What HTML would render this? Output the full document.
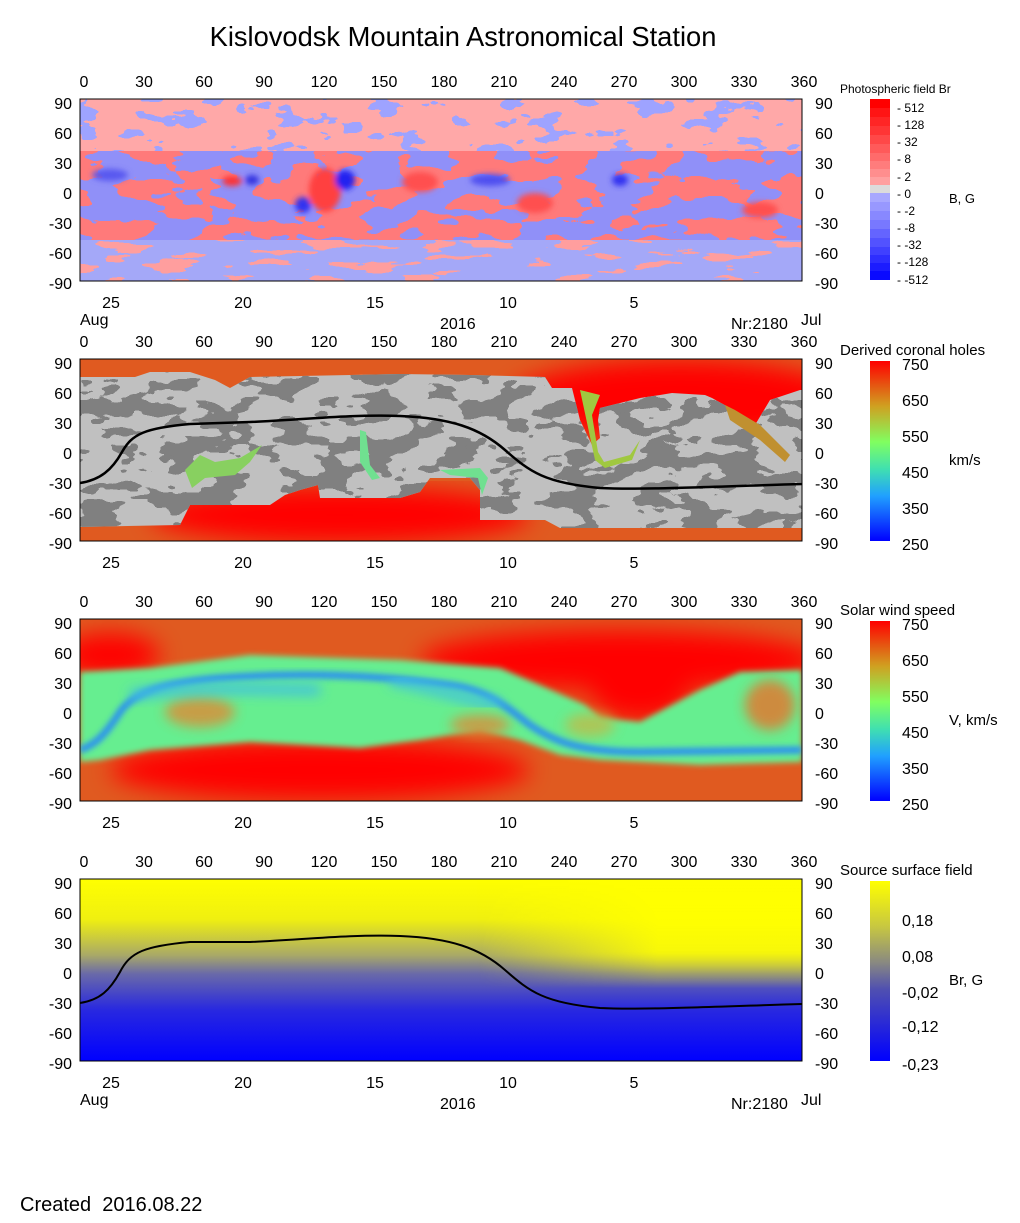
<!DOCTYPE html>
<html><head><meta charset="utf-8"><style>
html,body{margin:0;padding:0;background:#fff}
svg{display:block;font-family:"Liberation Sans",Arial,sans-serif}
</style></head><body>
<svg width="1020" height="1223" viewBox="0 0 1020 1223" xmlns="http://www.w3.org/2000/svg">
<defs>
<filter id="nb" x="0" y="0" width="100%" height="100%" color-interpolation-filters="sRGB">
<feTurbulence type="fractalNoise" baseFrequency="0.03 0.07" numOctaves="3" seed="4"/>
<feColorMatrix type="matrix" values="0 0 0 0 0.62  0 0 0 0 0.64  0 0 0 0 1  10 0 0 0 -5.7"/>
<feComponentTransfer><feFuncA type="discrete" tableValues="0 1"/></feComponentTransfer>
</filter>
<filter id="nr" x="0" y="0" width="100%" height="100%" color-interpolation-filters="sRGB">
<feTurbulence type="fractalNoise" baseFrequency="0.022 0.05" numOctaves="3" seed="11"/>
<feColorMatrix type="matrix" values="0 0 0 0 1  0 0 0 0 0.48  0 0 0 0 0.48  10 0 0 0 -4.6"/>
<feComponentTransfer><feFuncA type="discrete" tableValues="0 1"/></feComponentTransfer>
</filter>
<filter id="np" x="0" y="0" width="100%" height="100%" color-interpolation-filters="sRGB">
<feTurbulence type="fractalNoise" baseFrequency="0.02 0.1" numOctaves="3" seed="7"/>
<feColorMatrix type="matrix" values="0 0 0 0 1  0 0 0 0 0.62  0 0 0 0 0.62  10 0 0 0 -5.6"/>
<feComponentTransfer><feFuncA type="discrete" tableValues="0 1"/></feComponentTransfer>
</filter>
<filter id="ng" x="0" y="0" width="100%" height="100%" color-interpolation-filters="sRGB">
<feTurbulence type="fractalNoise" baseFrequency="0.025 0.055" numOctaves="3" seed="2"/>
<feColorMatrix type="matrix" values="0 0 0 0 0.5  0 0 0 0 0.5  0 0 0 0 0.5  10 0 0 0 -4.8"/>
<feComponentTransfer><feFuncA type="discrete" tableValues="0 1"/></feComponentTransfer>
</filter>
<filter id="bl"><feGaussianBlur stdDeviation="6"/></filter>
<filter id="bl2"><feGaussianBlur stdDeviation="12"/></filter>
<filter id="bl3"><feGaussianBlur stdDeviation="3"/></filter>
<linearGradient id="cb" x1="0" y1="1" x2="0" y2="0">
<stop offset="0" stop-color="#0000ff"/><stop offset="0.25" stop-color="#20a0ff"/>
<stop offset="0.4" stop-color="#40e0b0"/><stop offset="0.55" stop-color="#80ff60"/>
<stop offset="0.75" stop-color="#d0a020"/><stop offset="1" stop-color="#ff0000"/>
</linearGradient>
<linearGradient id="cb4" x1="0" y1="1" x2="0" y2="0">
<stop offset="0" stop-color="#0000ff"/><stop offset="0.4" stop-color="#5050b0"/>
<stop offset="0.55" stop-color="#8a8a80"/><stop offset="0.75" stop-color="#c8c840"/>
<stop offset="1" stop-color="#ffff00"/>
</linearGradient>
<linearGradient id="p4" x1="0" y1="0" x2="0" y2="1">
<stop offset="0" stop-color="#ffff00"/><stop offset="0.22" stop-color="#f0f010"/>
<stop offset="0.42" stop-color="#a8a868"/><stop offset="0.52" stop-color="#6a6aa8"/>
<stop offset="0.72" stop-color="#2828e0"/><stop offset="1" stop-color="#0000ff"/>
</linearGradient>
<linearGradient id="p4r" x1="0" y1="0" x2="0" y2="1">
<stop offset="0" stop-color="#ffff00" stop-opacity="1"/><stop offset="0.4" stop-color="#ffff00" stop-opacity="0.9"/>
<stop offset="0.6" stop-color="#ffff00" stop-opacity="0"/>
</linearGradient>
<linearGradient id="fadeR" x1="0" y1="0" x2="1" y2="0">
<stop offset="0.55" stop-color="#fff" stop-opacity="0"/><stop offset="0.8" stop-color="#fff" stop-opacity="1"/>
</linearGradient>
<mask id="mR"><rect x="80" y="879" width="722" height="182" fill="url(#fadeR)"/></mask>
<clipPath id="c1"><rect x="80" y="99" width="722" height="182"/></clipPath>
<clipPath id="c2"><rect x="80" y="359" width="722" height="182"/></clipPath>
<clipPath id="c3"><rect x="80" y="619" width="722" height="182"/></clipPath>
<clipPath id="c4"><rect x="80" y="879" width="722" height="182"/></clipPath>
<clipPath id="bTop"><rect x="80" y="99" width="722" height="52"/></clipPath>
<clipPath id="bMid"><rect x="80" y="151" width="722" height="89"/></clipPath>
<clipPath id="bBot"><rect x="80" y="240" width="722" height="41"/></clipPath>
<clipPath id="g2"><path d="M80,377 L135,377 L150,372 L190,372 L215,380 L230,388 L250,377 L300,376 L400,374 L470,375 L545,377 L552,388 L572,388 L580,420 L592,445 L600,438 L598,420 L600,408 L640,398 L660,395 L672,393 L705,395 L712,398 L730,408 L755,425 L770,400 L800,390 L802,390 L802,528 L560,528 L545,520 L480,520 L480,490 L470,478 L460,478 L430,478 L420,492 L400,498 L320,498 L318,485 L300,490 L285,495 L270,505 L190,505 L180,525 L80,527 Z"/></clipPath>
</defs>

<text x="463" y="46" font-size="27.3" text-anchor="middle">Kislovodsk Mountain Astronomical Station</text>

<!-- Panel 1 -->
<g clip-path="url(#c1)">
<rect x="80" y="99" width="722" height="182" fill="#a8acf8"/>
<g clip-path="url(#bTop)">
<rect x="80" y="99" width="722" height="52" fill="#ffa8a8"/>
<rect x="80" y="99" width="722" height="52" filter="url(#nb)"/>
</g>
<g clip-path="url(#bMid)">
<rect x="80" y="151" width="722" height="89" fill="#9090f8"/>
<rect x="80" y="151" width="722" height="89" filter="url(#nr)"/>
</g>
<g clip-path="url(#bBot)">
<rect x="80" y="240" width="722" height="41" fill="#a4a8f8"/>
<rect x="80" y="240" width="722" height="41" filter="url(#np)"/>
</g>
<g filter="url(#bl3)">
<ellipse cx="325" cy="190" rx="16" ry="22" fill="#ff4040"/>
<ellipse cx="345" cy="180" rx="10" ry="10" fill="#2020f0"/>
<ellipse cx="303" cy="205" rx="8" ry="8" fill="#3030f0"/>
<ellipse cx="232" cy="181" rx="10" ry="5" fill="#ff3030"/>
<ellipse cx="252" cy="180" rx="7" ry="5" fill="#3030e0"/>
<ellipse cx="110" cy="175" rx="18" ry="6" fill="#5858f0"/>
<ellipse cx="490" cy="180" rx="20" ry="6" fill="#5050f0"/>
<ellipse cx="420" cy="182" rx="18" ry="10" fill="#ff5050"/>
<ellipse cx="535" cy="203" rx="18" ry="10" fill="#ff5050"/>
<ellipse cx="760" cy="210" rx="18" ry="8" fill="#ff5050"/>
<ellipse cx="620" cy="180" rx="8" ry="6" fill="#3030f0"/>
</g>
</g>
<rect x="80" y="99" width="722" height="182" fill="none" stroke="#000"/>

<!-- Panel 2 -->
<g clip-path="url(#c2)">
<rect x="80" y="359" width="722" height="182" fill="#e05a20"/>
<ellipse cx="680" cy="400" rx="170" ry="40" fill="#ff0000" filter="url(#bl2)"/>
<ellipse cx="340" cy="515" rx="190" ry="28" fill="#ff0000" filter="url(#bl2)"/>
<g clip-path="url(#g2)">
<rect x="80" y="359" width="722" height="182" fill="#c0c0c0"/>
<rect x="80" y="359" width="722" height="182" filter="url(#ng)"/>
</g>
<path d="M185,470 L200,455 L215,462 L240,458 L262,445 L250,462 L235,475 L205,478 L192,488 Z" fill="#88d060"/>
<path d="M360,430 L366,432 L370,465 L380,478 L372,480 L360,462 Z M440,470 L480,468 L488,478 L482,495 L478,478 L450,475 Z" fill="#70e090"/>
<path d="M580,390 L600,395 L592,415 L598,452 L604,462 L630,455 L640,440 L632,460 L605,468 L595,460 Z" fill="#a0c840"/>
<path d="M725,405 L735,410 L760,425 L790,455 L785,462 L760,440 L730,420 Z" fill="#c09030"/>
<path d="M80,483 C100,480 112,470 122,452 C132,434 145,428 190,424 L250,422 C300,420 350,414 400,416 C450,418 480,428 505,450 C530,472 545,483 600,488 C640,490 700,487 802,484" fill="none" stroke="#000" stroke-width="2.5"/>
</g>
<rect x="80" y="359" width="722" height="182" fill="none" stroke="#000"/>

<!-- Panel 3 -->
<g clip-path="url(#c3)">
<rect x="80" y="619" width="722" height="182" fill="#e05a20"/>
<g filter="url(#bl2)">
<ellipse cx="110" cy="655" rx="50" ry="22" fill="#ff0000"/>
<ellipse cx="620" cy="660" rx="200" ry="30" fill="#ff0000"/>
<ellipse cx="640" cy="690" rx="50" ry="30" fill="#ff0000"/>
<ellipse cx="320" cy="770" rx="210" ry="30" fill="#ff0000"/>
</g>
<path d="M80,672 L150,668 L250,655 L400,660 L500,668 L540,685 L585,705 L600,718 L640,722 L700,690 L740,672 L802,670 L802,762 L700,765 L600,760 L560,755 L520,740 L480,730 L420,740 L360,748 L250,742 L150,750 L100,760 L80,762 Z" fill="#66ee90" filter="url(#bl3)"/>
<g filter="url(#bl)" opacity="0.85">
<ellipse cx="200" cy="712" rx="35" ry="15" fill="#d8903a"/>
<ellipse cx="480" cy="725" rx="30" ry="10" fill="#d8903a"/>
<ellipse cx="770" cy="705" rx="25" ry="25" fill="#e07a30"/>
<ellipse cx="590" cy="725" rx="25" ry="12" fill="#b8c050"/>
</g>
<path d="M80,750 C95,745 105,735 120,712 C135,690 170,682 220,678 C300,672 380,675 450,685 C490,690 510,710 530,725 C555,742 580,752 640,752 L802,750" fill="none" stroke="#2a90f0" stroke-width="7" filter="url(#bl3)"/>
<path d="M130,695 C200,685 260,690 320,690 M390,680 C440,690 470,700 500,705" fill="none" stroke="#40c0e0" stroke-width="10" filter="url(#bl)"/>
</g>
<rect x="80" y="619" width="722" height="182" fill="none" stroke="#000"/>

<!-- Panel 4 -->
<g clip-path="url(#c4)">
<rect x="80" y="879" width="722" height="182" fill="url(#p4)"/>
<rect x="80" y="879" width="722" height="182" fill="url(#p4r)" mask="url(#mR)"/>
</g>
<path d="M80,1003 C100,1000 110,990 120,972 C130,952 145,946 190,942 L250,942 C300,940 350,934 400,936 C450,938 480,948 505,970 C530,992 545,1003 600,1008 C640,1010 700,1007 802,1004" fill="none" stroke="#000" stroke-width="2"/>
<rect x="80" y="879" width="722" height="182" fill="none" stroke="#000"/>

<!-- axes text -->
<g font-size="16" fill="#000">
<g text-anchor="middle">
<g id="top"><text x="84" y="87">0</text><text x="144" y="87">30</text><text x="204" y="87">60</text><text x="264" y="87">90</text><text x="324" y="87">120</text><text x="384" y="87">150</text><text x="444" y="87">180</text><text x="504" y="87">210</text><text x="564" y="87">240</text><text x="624" y="87">270</text><text x="684" y="87">300</text><text x="744" y="87">330</text><text x="804" y="87">360</text></g>
<use href="#top" y="260"/><use href="#top" y="520"/><use href="#top" y="780"/>
<g id="bot"><text x="111" y="308">25</text><text x="243" y="308">20</text><text x="375" y="308">15</text><text x="508" y="308">10</text><text x="634" y="308">5</text></g>
<use href="#bot" y="260"/><use href="#bot" y="520"/><use href="#bot" y="780"/>
</g>
<g id="lft" text-anchor="end"><text x="72" y="109">90</text><text x="72" y="139">60</text><text x="72" y="169">30</text><text x="72" y="199">0</text><text x="72" y="229">-30</text><text x="72" y="259">-60</text><text x="72" y="289">-90</text></g>
<use href="#lft" y="260"/><use href="#lft" y="520"/><use href="#lft" y="780"/>
<g id="rgt"><text x="815" y="109">90</text><text x="815" y="139">60</text><text x="815" y="169">30</text><text x="815" y="199">0</text><text x="815" y="229">-30</text><text x="815" y="259">-60</text><text x="815" y="289">-90</text></g>
<use href="#rgt" y="260"/><use href="#rgt" y="520"/><use href="#rgt" y="780"/>
<text x="80" y="325">Aug</text><text x="440" y="329">2016</text><text x="731" y="329">Nr:2180</text><text x="801" y="325">Jul</text>
<text x="80" y="1105">Aug</text><text x="440" y="1109">2016</text><text x="731" y="1109">Nr:2180</text><text x="801" y="1105">Jul</text>
<text x="20" y="1211" font-size="20">Created&#160;&#160;2016.08.22</text>
<text x="840" y="355" font-size="15">Derived coronal holes</text>
<text x="840" y="615" font-size="15">Solar wind speed</text>
<text x="840" y="875" font-size="15">Source surface field</text>
<text x="949" y="465" font-size="15">km/s</text>
<text x="949" y="725" font-size="15">V, km/s</text>
<text x="949" y="985" font-size="15">Br, G</text>
</g>

<!-- colorbar 1 -->
<text x="840" y="93" font-size="12">Photospheric field Br</text>
<g>
<rect x="870" y="99" width="20" height="9" fill="#ff0000"/><rect x="870" y="108" width="20" height="9" fill="#ff1414"/>
<rect x="870" y="117" width="20" height="9" fill="#ff2525"/><rect x="870" y="126" width="20" height="9" fill="#ff3535"/>
<rect x="870" y="135" width="20" height="9" fill="#ff4848"/><rect x="870" y="144" width="20" height="9" fill="#ff5a5a"/>
<rect x="870" y="153" width="20" height="8" fill="#ff6b6b"/><rect x="870" y="161" width="20" height="8" fill="#ff7c7c"/>
<rect x="870" y="169" width="20" height="8" fill="#ff8e8e"/><rect x="870" y="177" width="20" height="8" fill="#ffa0a0"/>
<rect x="870" y="185" width="20" height="8" fill="#dcdcdc"/>
<rect x="870" y="193" width="20" height="9" fill="#a8a8ff"/><rect x="870" y="202" width="20" height="9" fill="#9898ff"/>
<rect x="870" y="211" width="20" height="9" fill="#8888ff"/><rect x="870" y="220" width="20" height="9" fill="#7878ff"/>
<rect x="870" y="229" width="20" height="9" fill="#6464ff"/><rect x="870" y="238" width="20" height="9" fill="#5252ff"/>
<rect x="870" y="247" width="20" height="8" fill="#4040ff"/><rect x="870" y="255" width="20" height="8" fill="#2e2eff"/>
<rect x="870" y="263" width="20" height="8" fill="#1c1cff"/><rect x="870" y="271" width="20" height="9" fill="#0a0aff"/>
</g>
<g font-size="12">
<text x="897" y="112">- 512</text><text x="897" y="129">- 128</text><text x="897" y="146">- 32</text>
<text x="897" y="163">- 8</text><text x="897" y="181">- 2</text><text x="897" y="198">- 0</text>
<text x="897" y="215">- -2</text><text x="897" y="232">- -8</text><text x="897" y="249">- -32</text>
<text x="897" y="266">- -128</text><text x="897" y="284">- -512</text>
<text x="949" y="203" font-size="13">B, G</text>
</g>

<!-- colorbars 2-4 -->
<rect x="870" y="361" width="20" height="180" fill="url(#cb)"/>
<rect x="870" y="621" width="20" height="180" fill="url(#cb)"/>
<rect x="870" y="881" width="20" height="180" fill="url(#cb4)"/>
<g font-size="16">
<g id="cbl"><text x="902" y="370">750</text><text x="902" y="406">650</text><text x="902" y="442">550</text><text x="902" y="478">450</text><text x="902" y="514">350</text><text x="902" y="550">250</text></g>
<use href="#cbl" y="260"/>
<text x="902" y="926">0,18</text><text x="902" y="962">0,08</text><text x="902" y="998">-0,02</text><text x="902" y="1032">-0,12</text><text x="902" y="1070">-0,23</text>
</g>
</svg>
</body></html>
